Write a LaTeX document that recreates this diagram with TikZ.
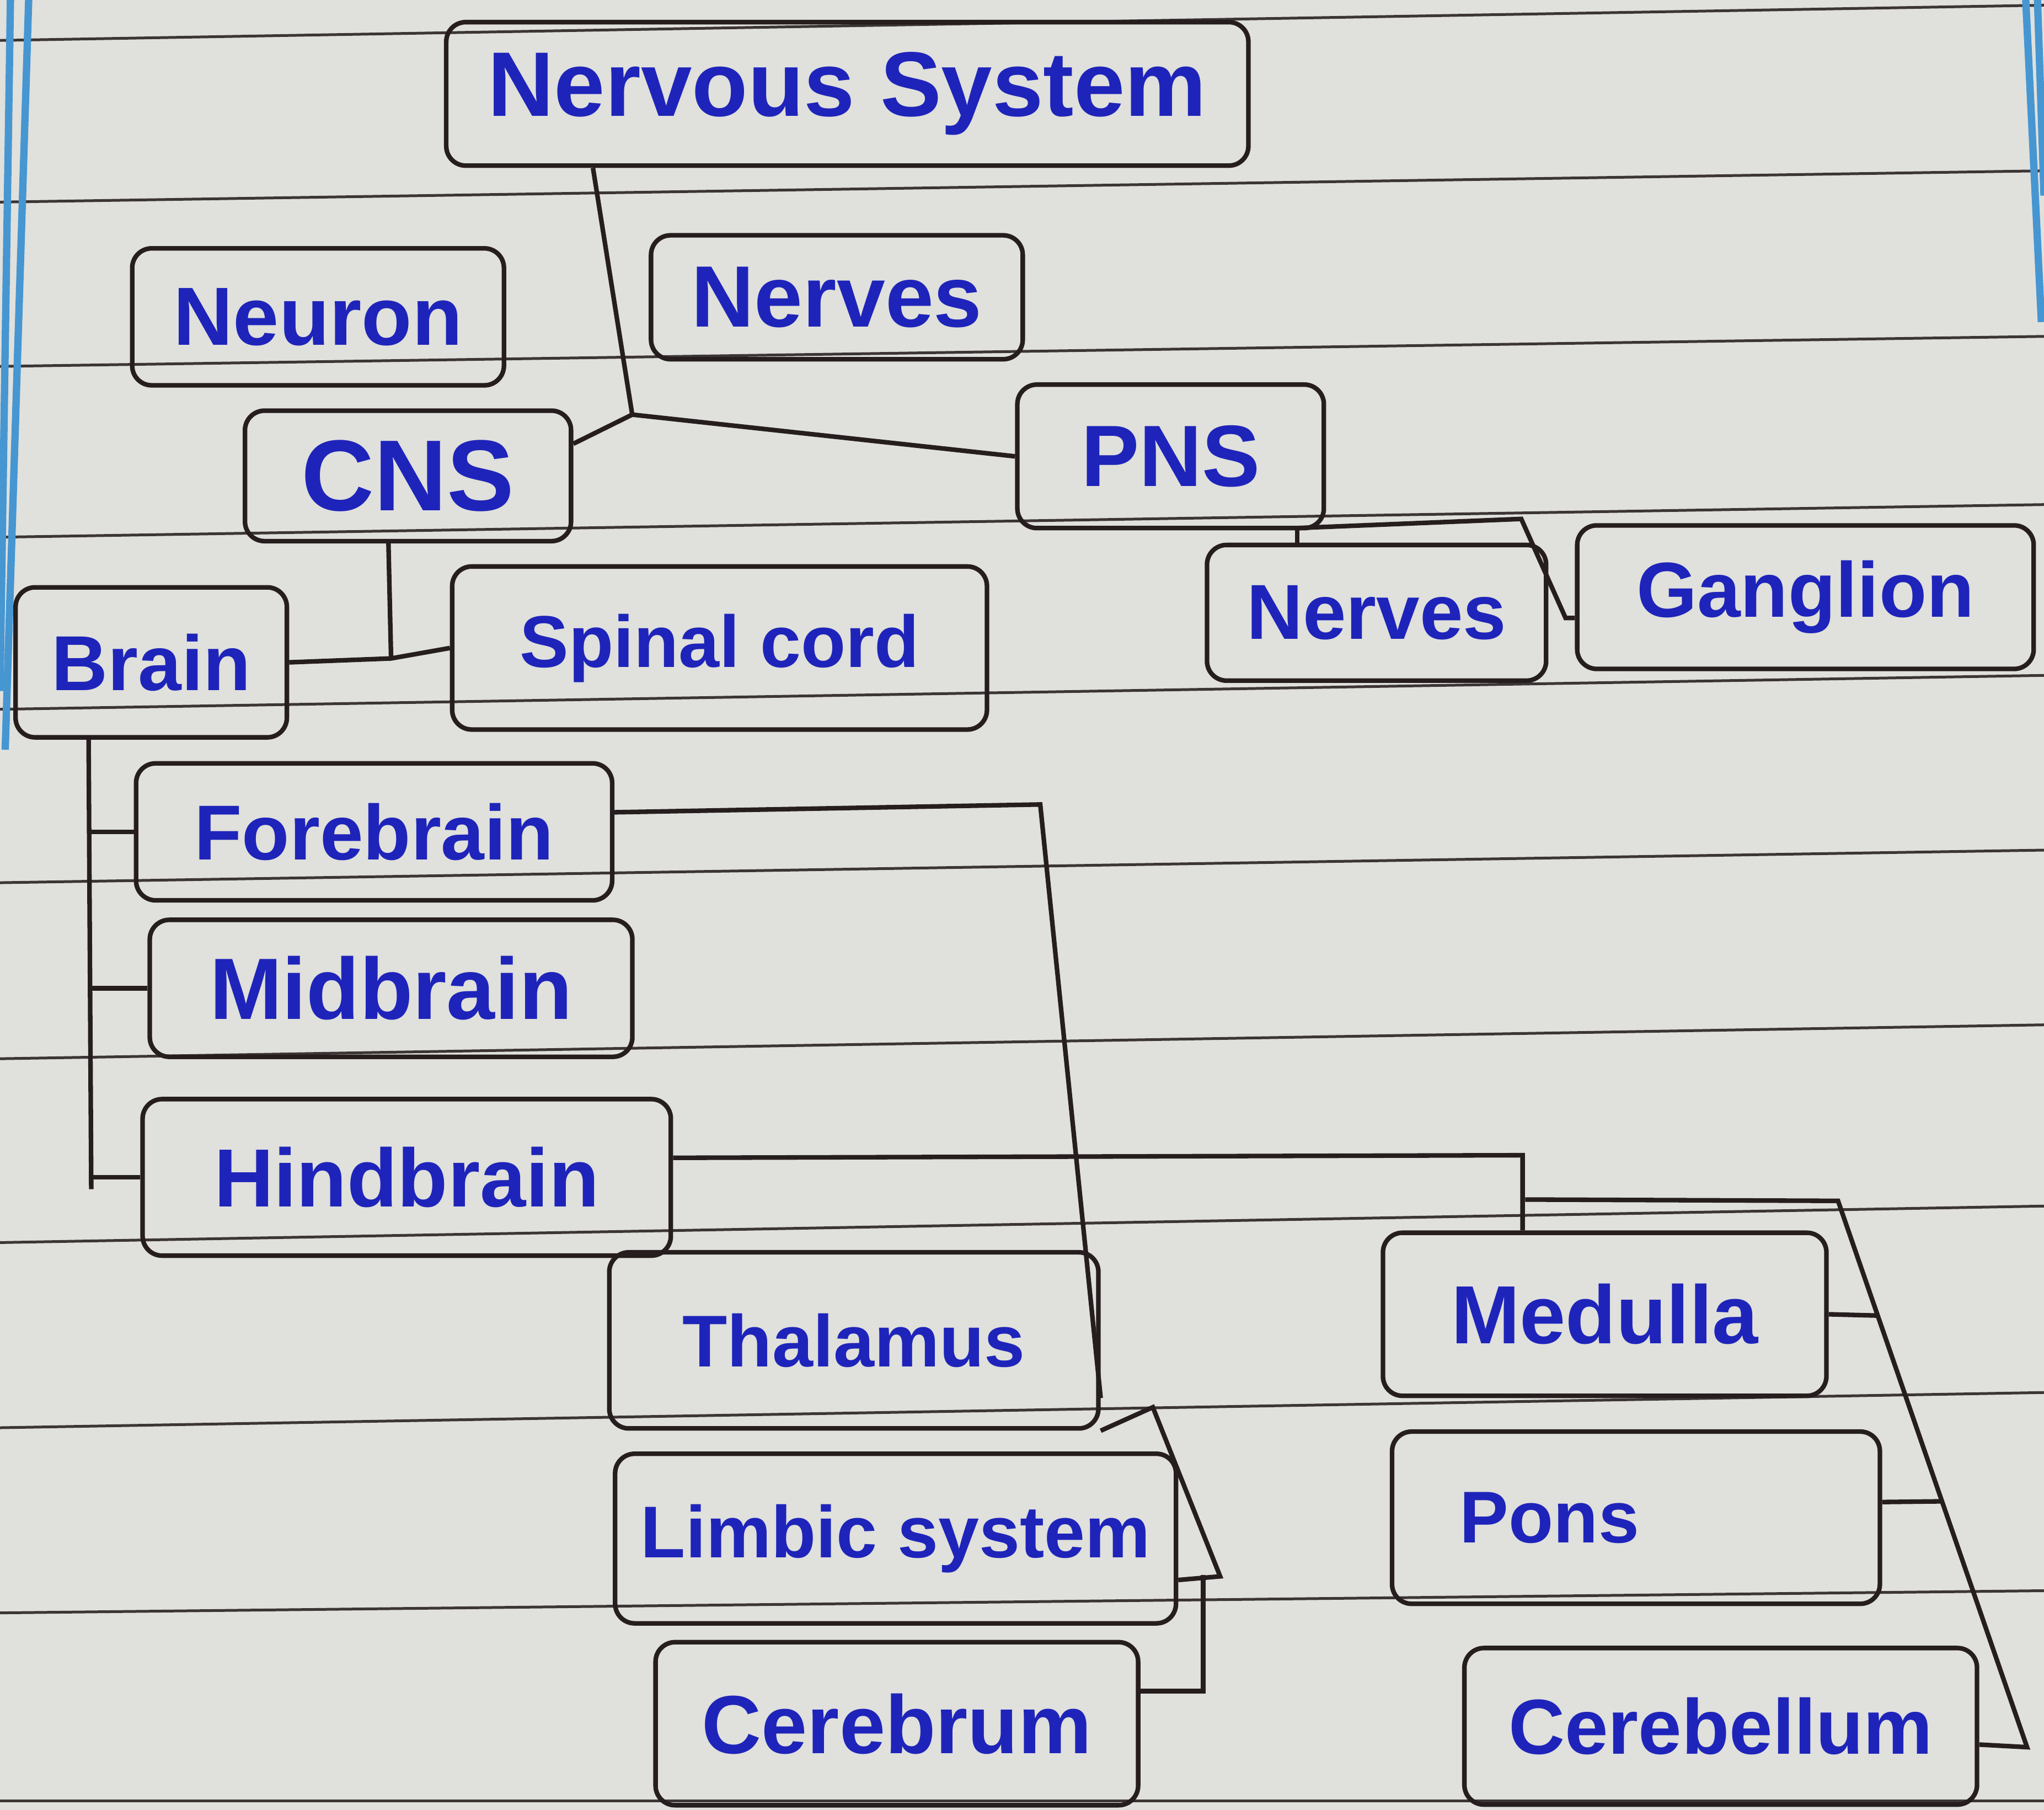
\documentclass[tikz,border=0pt]{standalone}
\usepackage{fontspec}
\setmainfont{Liberation Sans}
\usetikzlibrary{calc}

\definecolor{paper}{RGB}{224,224,220}
\definecolor{ink}{RGB}{30,36,186}
\definecolor{pencil}{RGB}{38,30,30}
\definecolor{margin}{RGB}{70,150,210}

\tikzset{
    fs/.style={font=\bfseries\fontsize{#1}{#1}\selectfont},
    box/.style={draw=pencil, line width=1pt, rounded corners=1.5mm, text=ink, inner sep=0pt, fs=18},
    link/.style={draw=pencil, line width=1pt},
    ruled/.style={draw=pencil!90, line width=0.6pt},
    marginline/.style={draw=margin, line width=1.6pt},
}

\begin{document}
\begin{tikzpicture}[x=0.01cm, y=-0.01cm]
    % paper
    \useasboundingbox (0,0) rectangle (1568,1388);
    \clip (0,0) rectangle (1568,1388);
    \fill[paper] (0,0) rectangle (1568,1388);
    \foreach \l/\r in {31/4,155/131,281/258,412/387,544/518,677/652,812/786,953/925,1095/1068,1237/1220,1381/1381}
        \draw[ruled] (0,\l) -- (1568,\r);
    \draw[marginline] (8,0) -- (0,530);
    \draw[marginline] (22,0) -- (4,575);
    \draw[marginline] (1554,0) -- (1566,247);
    \draw[marginline] (1563,0) -- (1568,150);

    % boxes
    \node[box, fs=20, minimum width=6.15cm, minimum height=1.1cm] (ns) at (650,72) {Nervous System};
    \node[box, minimum width=2.85cm, minimum height=1.05cm] (neuron) at (244,243) {Neuron};
    \node[box, fs=19, minimum width=2.85cm, minimum height=0.95cm] (nerves) at (642,228) {Nerves};
    \node[box, fs=22, minimum width=2.5cm, minimum height=1cm] (cns) at (313,365) {CNS};
    \node[box, fs=19, minimum width=2.35cm, minimum height=1.1cm] (pns) at (898,350) {PNS};
    \node[box, fs=17, minimum width=2.08cm, minimum height=1.15cm] (brain) at (116,508) {Brain};
    \node[box, fs=16, minimum width=4.1cm, minimum height=1.25cm] (spinal) at (552,497) {Spinal cord};
    \node[box, fs=17, minimum width=2.6cm, minimum height=1.04cm] (pnerves) at (1056,470) {Nerves};
    \node[box, fs=17, minimum width=3.5cm, minimum height=1.1cm] (ganglion) at (1385,458) {Ganglion};
    \node[box, fs=17, minimum width=3.65cm, minimum height=1.05cm] (fore) at (287,638) {Forebrain};
    \node[box, fs=19, minimum width=3.7cm, minimum height=1.05cm] (mid) at (300,758) {Midbrain};
    \node[box, minimum width=4.05cm, minimum height=1.2cm] (hind) at (312,903) {Hindbrain};
    \node[box, fs=16, minimum width=3.75cm, minimum height=1.35cm] (thal) at (655,1028) {Thalamus};
    \node[box, fs=16, minimum width=4.3cm, minimum height=1.3cm] (limbic) at (687,1180) {Limbic system};
    \node[box, minimum width=3.7cm, minimum height=1.25cm] (cerebrum) at (688,1322) {Cerebrum};
    \node[box, minimum width=3.4cm, minimum height=1.25cm] (medulla) at (1231,1008) {Medulla};
    \node[box, fs=16, minimum width=3.74cm, minimum height=1.32cm, text width=2.7cm, align=left] (pons) at (1255,1164) {Pons};
    \node[box, fs=17, minimum width=3.93cm, minimum height=1.2cm] (cerebellum) at (1320,1324) {Cerebellum};

    % nervous system -> cns, pns
    \coordinate (j1) at (485,318);
    \draw[link] ([xshift=-1.95cm]ns.south) -- (j1);
    \draw[link] (j1) -- (cns.11);
    \draw[link] (j1) -- (pns.west);

    % cns -> brain, spinal cord
    \coordinate (j2) at (300,505);
    \draw[link] ([xshift=-0.15cm]cns.south) -- (j2);
    \draw[link] (brain.east) -- (j2) -- (spinal.west);

    % pns -> nerves, ganglion
    \coordinate (pfoot) at (995,405);
    \coordinate (pn1) at (1167,398);
    \coordinate (pn2) at (1201,474);
    \draw[link] (pfoot) -- (pfoot |- pnerves.north);
    \draw[link] (pfoot) -- (pn1) -- (pn2) -- (ganglion.west |- pn2);

    % brain -> forebrain, midbrain, hindbrain
    \coordinate (bt) at (70,912);
    \draw[link] ([xshift=-0.48cm]brain.south) -- (bt);
    \foreach \n in {fore,mid,hind}
        \draw[link] (\n.west) -- (\n.west -| bt);

    % forebrain -> thalamus, limbic system, cerebrum
    \coordinate (ft) at (798,617);
    \coordinate (lb) at (936,1209);
    \coordinate (lc) at (923,1208);
    \draw[link] ([yshift=0.15cm]fore.east) -- (ft) -- ([yshift=0.25cm]thal.south east);
    \draw[link] (thal.south east) -- ++(40,-18) -- (lb) -- ([yshift=0.35cm]limbic.south east);
    \draw[link] (lc) -- ([yshift=0.25cm]cerebrum.east -| lc) -- ([yshift=0.25cm]cerebrum.east);

    % hindbrain -> medulla, pons, cerebellum
    \coordinate (h1) at (1168,886);
    \coordinate (h2) at (1170,920);
    \coordinate (d1) at (1410,921);
    \coordinate (d2) at (1555,1340);
    \draw[link] ([yshift=0.15cm]hind.east) -- (h1) -- (h1 |- medulla.north);
    \draw[link] (h2) -- (d1) -- (d2) -- ([yshift=-0.14cm]cerebellum.east);
    \draw[link] (medulla.east) -- ($(d1)!0.21!(d2)$);
    \draw[link] ([yshift=0.12cm]pons.east) -- ($(d1)!0.55!(d2)$);
\end{tikzpicture}
\end{document}
